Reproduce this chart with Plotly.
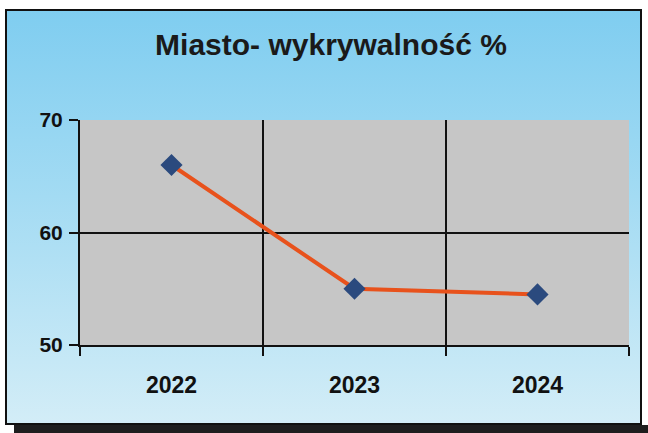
import plotly.graph_objects as go

years = ["2022", "2023", "2024"]
values = [66, 55, 54.5]
y_ticks = [50, 60, 70]

x_pos = list(range(len(years)))

W, H = 648, 433
L, R, T, B = 80, 19, 120, 88
PW, PH = W - L - R, H - T - B


def px(x):
    return (x - L) / PW


def py(y):
    return (H - B - y) / PH


grad_svg = (
    "data:image/svg+xml;utf8,"
    "<svg xmlns='http://www.w3.org/2000/svg' width='100' height='100' preserveAspectRatio='none'>"
    "<defs><linearGradient id='g' x1='0' y1='0' x2='0' y2='1'>"
    "<stop offset='0' stop-color='%237fcdf0'/>"
    "<stop offset='0.45' stop-color='%23a3dbf3'/>"
    "<stop offset='1' stop-color='%23d3edf7'/>"
    "</linearGradient></defs>"
    "<rect width='100' height='100' fill='url(%23g)'/></svg>"
)

fig = go.Figure()
fig.add_trace(go.Scatter(
    x=x_pos, y=values, mode="lines+markers",
    line=dict(color="#e8521c", width=4),
    marker=dict(symbol="diamond", size=17, color="#2b4a7e"),
    showlegend=False,
))

fig.update_layout(
    width=W, height=H,
    margin=dict(l=L, r=R, t=T, b=B),
    paper_bgcolor="#ffffff",
    plot_bgcolor="#c6c6c6",
    title=dict(text="<b>Miasto- wykrywalność %</b>", x=331 / W, xanchor="center",
               y=1 - 44 / H, yanchor="middle",
               font=dict(family="Liberation Sans, Arial", size=30, color="#1a1a1a")),
    font=dict(family="Liberation Sans, Arial", color="#111111"),
    images=[dict(source=grad_svg, xref="paper", yref="paper", x=px(6), y=py(10),
                 sizex=(641 - 6) / PW, sizey=(424 - 10) / PH, xanchor="left", yanchor="top",
                 sizing="stretch", layer="below")],
    xaxis=dict(
        range=[-0.5, len(years) - 0.5],
        tickmode="array", tickvals=x_pos, ticktext=["<b>%s</b>" % y for y in years],
        ticks="", showgrid=False, zeroline=False,
        showline=True, linecolor="#111111", linewidth=2,
        tickfont=dict(size=23), ticklabelstandoff=18,
        minor=dict(tickmode="array", tickvals=[-0.5, 0.5, 1.5, 2.5], ticks="outside",
                   ticklen=9, tickwidth=2, tickcolor="#111111",
                   showgrid=True, gridcolor="#111111", gridwidth=2),
    ),
    yaxis=dict(
        range=[50, 70], tickmode="array", tickvals=y_ticks,
        ticktext=["<b>%d</b>" % v for v in y_ticks],
        ticks="outside", ticklen=9, tickwidth=2, tickcolor="#111111",
        showgrid=True, gridcolor="#111111", gridwidth=2,
        zeroline=False, showline=True, linecolor="#111111", linewidth=2,
        tickfont=dict(size=21), ticklabelstandoff=2,
    ),
    shapes=[
        dict(type="rect", xref="x domain", yref="y domain", x0=0, x1=1, y0=0, y1=1,
             line=dict(width=0), fillcolor="#c6c6c6", layer="below"),
        dict(type="rect", xref="paper", yref="paper", x0=px(6), x1=px(641), y0=py(424), y1=py(10),
             line=dict(color="#111111", width=2), fillcolor="rgba(0,0,0,0)", layer="above"),
        dict(type="rect", xref="paper", yref="paper", x0=px(14), x1=px(648), y0=py(433), y1=py(425),
             line=dict(width=0), fillcolor="#1e1e1e", layer="above"),
    ],
)

fig.write_html("out.html", config={"displayModeBar": False},
               post_script="document.body.style.margin='0';document.body.style.overflow='hidden';")
